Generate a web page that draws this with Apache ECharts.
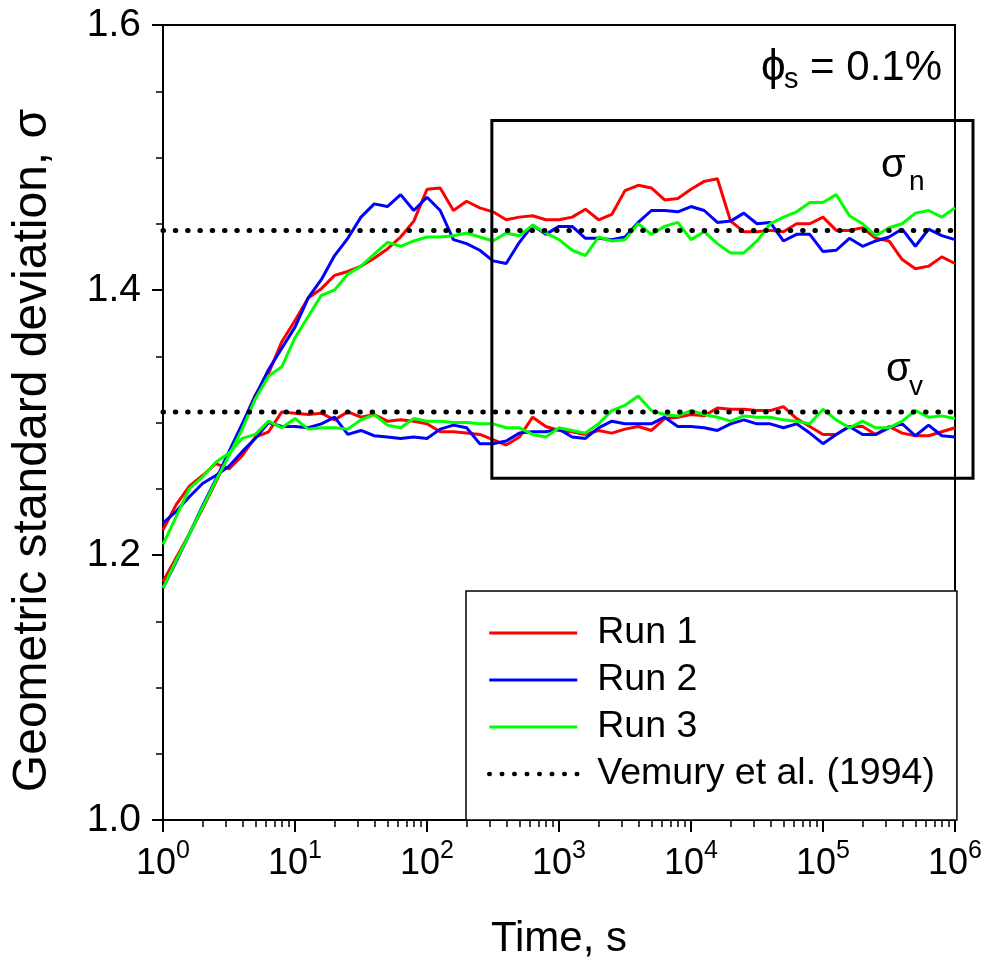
<!DOCTYPE html>
<html><head><meta charset="utf-8">
<script src="https://cdn.jsdelivr.net/npm/echarts@6/dist/echarts.min.js"></script>
<style>html,body{margin:0;padding:0;background:#fff}#c{width:984px;height:964px}</style>
</head><body><div id="c"></div><script>
const FONT = '"Liberation Sans", Arial, sans-serif';

// time points (s), ten per decade
const times = [
  1, 1.259, 1.585, 1.995, 2.512, 3.162, 3.981, 5.012, 6.310, 7.943,
  10, 12.59, 15.85, 19.95, 25.12, 31.62, 39.81, 50.12, 63.10, 79.43,
  100, 125.9, 158.5, 199.5, 251.2, 316.2, 398.1, 501.2, 631.0, 794.3,
  1000, 1259, 1585, 1995, 2512, 3162, 3981, 5012, 6310, 7943,
  10000, 12589, 15849, 19953, 25119, 31623, 39811, 50119, 63096, 79433,
  100000, 125893, 158489, 199526, 251189, 316228, 398107, 501187, 630957, 794328,
  1000000
];

// sigma_n (number-based) per run
const run1N = [1.180,1.198,1.216,1.235,1.255,1.276,1.298,1.321,1.337,1.361,
  1.377,1.394,1.401,1.411,1.414,1.418,1.424,1.431,1.440,1.452,
  1.476,1.477,1.460,1.467,1.462,1.459,1.453,1.455,1.456,1.453,
  1.453,1.455,1.461,1.453,1.457,1.475,1.479,1.477,1.468,1.469,
  1.476,1.482,1.484,1.452,1.444,1.444,1.445,1.444,1.450,1.450,
  1.455,1.445,1.445,1.447,1.439,1.437,1.423,1.416,1.418,1.425,1.420];
const run2N = [1.175,1.195,1.216,1.237,1.257,1.278,1.299,1.320,1.340,1.356,
  1.372,1.394,1.408,1.426,1.439,1.455,1.465,1.463,1.472,1.460,
  1.470,1.460,1.438,1.435,1.430,1.422,1.420,1.436,1.449,1.442,
  1.448,1.448,1.439,1.439,1.438,1.440,1.451,1.460,1.460,1.459,
  1.463,1.460,1.451,1.452,1.458,1.450,1.451,1.437,1.442,1.442,
  1.429,1.430,1.439,1.433,1.437,1.440,1.446,1.433,1.446,1.441,1.438];
const run3N = [1.175,1.196,1.216,1.236,1.256,1.275,1.295,1.318,1.335,1.342,
  1.364,1.380,1.396,1.400,1.412,1.418,1.427,1.436,1.433,1.437,
  1.440,1.440,1.441,1.443,1.440,1.437,1.443,1.441,1.449,1.443,
  1.438,1.430,1.426,1.440,1.437,1.438,1.450,1.442,1.448,1.451,
  1.438,1.444,1.435,1.428,1.428,1.437,1.450,1.455,1.459,1.466,
  1.466,1.472,1.456,1.450,1.441,1.447,1.450,1.458,1.460,1.455,1.462];

// sigma_v (volume-based) per run
const run1V = [1.219,1.238,1.252,1.260,1.269,1.265,1.275,1.289,1.293,1.308,
  1.307,1.306,1.307,1.302,1.308,1.304,1.306,1.301,1.302,1.301,
  1.299,1.293,1.293,1.292,1.291,1.287,1.283,1.289,1.304,1.297,
  1.294,1.293,1.291,1.294,1.292,1.295,1.297,1.294,1.303,1.304,
  1.306,1.305,1.311,1.310,1.310,1.309,1.309,1.312,1.303,1.297,
  1.291,1.291,1.297,1.297,1.291,1.297,1.292,1.290,1.290,1.293,1.296];
const run2V = [1.224,1.233,1.244,1.254,1.260,1.267,1.278,1.288,1.300,1.297,
  1.297,1.296,1.299,1.304,1.291,1.294,1.290,1.289,1.288,1.289,
  1.288,1.295,1.298,1.296,1.284,1.284,1.286,1.292,1.293,1.293,
  1.295,1.289,1.288,1.296,1.301,1.299,1.299,1.299,1.304,1.297,
  1.297,1.296,1.294,1.299,1.302,1.299,1.299,1.296,1.299,1.292,
  1.284,1.291,1.297,1.291,1.291,1.296,1.299,1.290,1.298,1.290,1.289];
const run3V = [1.208,1.229,1.250,1.259,1.270,1.277,1.288,1.291,1.301,1.296,
  1.303,1.295,1.296,1.296,1.295,1.302,1.306,1.298,1.296,1.303,
  1.301,1.301,1.300,1.300,1.299,1.299,1.296,1.296,1.291,1.289,
  1.296,1.294,1.292,1.299,1.309,1.313,1.320,1.309,1.306,1.305,
  1.309,1.306,1.304,1.301,1.305,1.304,1.304,1.302,1.301,1.299,
  1.310,1.302,1.296,1.301,1.296,1.296,1.301,1.309,1.304,1.305,1.303];

// Vemury et al. (1994) self-preserving values [sigma_n, sigma_v]
const vemury = [1.445, 1.308];
const vemuryX = [1, 1000000];

const seriesNames = ['Run 1', 'Run 2', 'Run 3', 'Vemury et al. (1994)'];
const colors = ['#ff0000', '#0000ff', '#00ff00'];

const xTickValues = [1, 10, 100, 1000, 10000, 100000, 1000000];
const xTickExp = ['0', '1', '2', '3', '4', '5', '6'];
const yTickLabels = ['1.0', '1.2', '1.4', '1.6'];

// highlighted box [time, sigma] corners (left/top, left/bottom)
const boxLeftTop = [310, 1.528];
const boxBottom = 1.258;

const minorX = [];
for (let d = 0; d < 6; d++) for (let m = 2; m <= 9; m++) minorX.push(m * Math.pow(10, d));

function pairs(arr) { return times.map((t, i) => [t, arr[i]]); }

const runN = [run1N, run2N, run3N];
const runV = [run1V, run2V, run3V];
const series = [];
for (let k = 0; k < 3; k++) {
  series.push({ name: seriesNames[k], type: 'line', data: pairs(runN[k]), symbol: 'none',
    lineStyle: { color: colors[k], width: 3 }, itemStyle: { color: colors[k] }, z: 3 + k });
}
for (let k = 0; k < 3; k++) {
  series.push({ name: seriesNames[k], type: 'line', data: pairs(runV[k]), symbol: 'none',
    lineStyle: { color: colors[k], width: 3 }, itemStyle: { color: colors[k] }, z: 3 + k });
}
for (let j = 0; j < 2; j++) {
  series.push({ name: seriesNames[3], type: 'line', symbol: 'none',
    data: vemuryX.map(x => [x, vemury[j]]),
    lineStyle: { color: '#000', width: 5, type: [0.5, 11.8], cap: 'round' },
    itemStyle: { color: '#000' }, z: 8 });
}

const chart = echarts.init(document.getElementById('c'), null, { renderer: 'canvas' });
chart.setOption({
  animation: false,
  backgroundColor: '#fff',
  textStyle: { fontFamily: FONT },
  grid: { left: 163, right: 29, top: 25, bottom: 144, show: true, borderColor: '#000', borderWidth: 2,
    containLabel: false, outerBoundsMode: 'none' },
  legend: {
    data: [
      { name: seriesNames[0], lineStyle: { width: 3 } },
      { name: seriesNames[1], lineStyle: { width: 3 } },
      { name: seriesNames[2], lineStyle: { width: 3 } },
      { name: seriesNames[3], lineStyle: { width: 4.5, type: [0.5, 12], cap: 'round' } }
    ],
    orient: 'vertical', left: 466, top: 591,
    backgroundColor: '#fff', borderColor: '#000', borderWidth: 1.5,
    padding: [22, 22, 26, 21], itemWidth: 88, itemHeight: 20, itemGap: 7,
    selectedMode: false,
    itemStyle: { opacity: 0 },
    textStyle: { fontFamily: FONT, fontSize: 37.5, color: '#000', lineHeight: 40, padding: [0, 0, 0, 15] }
  },
  xAxis: [{
    type: 'log', logBase: 10, min: 1, max: 1000000,
    name: 'Time, s', nameLocation: 'middle', nameGap: 98,
    nameTextStyle: { fontFamily: FONT, fontSize: 42, color: '#000' },
    axisLine: { lineStyle: { color: '#000', width: 2 } },
    axisTick: { customValues: xTickValues, length: 12, lineStyle: { color: '#000', width: 2 } },
    axisLabel: {
      customValues: xTickValues, margin: 19, color: '#000',
      formatter: function (v) {
        let idx = 0;
        for (let i = 0; i < xTickValues.length; i++) if (Math.abs(Math.log10(v) - Math.log10(xTickValues[i])) < 0.01) idx = i;
        return '{b|10}{s|' + xTickExp[idx] + '}';
      },
      rich: {
        b: { fontFamily: FONT, fontSize: 36, lineHeight: 50, color: '#000' },
        s: { fontFamily: FONT, fontSize: 25, lineHeight: 26, verticalAlign: 'top', color: '#000' }
      }
    },
    splitLine: { show: false }
  }, {
    type: 'log', logBase: 10, min: 1, max: 1000000, position: 'bottom',
    axisLine: { show: false },
    axisTick: { customValues: minorX, length: 7, lineStyle: { color: '#000', width: 1.5 } },
    axisLabel: { show: false }, splitLine: { show: false }
  }],
  yAxis: {
    type: 'value', min: 1.0, max: 1.6, interval: 0.2,
    name: 'Geometric standard deviation, σ', nameLocation: 'middle', nameGap: 106,
    nameTextStyle: { fontFamily: FONT, fontSize: 48, color: '#000', padding: [0, 56, 0, 0] },
    axisLine: { lineStyle: { color: '#000', width: 2 } },
    axisTick: { length: 11, lineStyle: { color: '#000', width: 2 } },
    minorTick: { show: true, splitNumber: 4, length: 7, lineStyle: { color: '#000', width: 1.5 } },
    axisLabel: { fontFamily: FONT, fontSize: 39, color: '#000', margin: 22,
      formatter: function (v) { return yTickLabels[Math.round((v - 1.0) / 0.2)]; } },
    splitLine: { show: false }
  },
  series: series
});

const p1 = chart.convertToPixel({ xAxisIndex: 0, yAxisIndex: 0 }, boxLeftTop);
const p2 = chart.convertToPixel({ xAxisIndex: 0, yAxisIndex: 0 }, [1000000, boxBottom]);
const boxRight = p2[0] + 18;

function txt(text, x, y, size, align) {
  return { type: 'text', z: 100, x: x, y: y,
    style: { text: text, font: size + 'px ' + FONT, fill: '#000',
      align: align || 'left', verticalAlign: 'middle', textAlign: align || 'left', textVerticalAlign: 'middle' } };
}

chart.setOption({
  graphic: [
    { type: 'rect', z: 50, shape: { x: p1[0], y: p1[1], width: boxRight - p1[0], height: p2[1] - p1[1] },
      style: { fill: 'none', stroke: '#000', lineWidth: 3 } },
    txt('ϕ', 761, 68, 44),
    txt('s', 784, 80, 29),
    txt('= 0.1%', 942, 68, 42, 'right'),
    txt('σ', 881, 166, 40),
    txt('n', 909, 182, 28),
    txt('σ', 886, 370, 40),
    txt('v', 909, 387, 28)
  ]
});
</script></body></html>
